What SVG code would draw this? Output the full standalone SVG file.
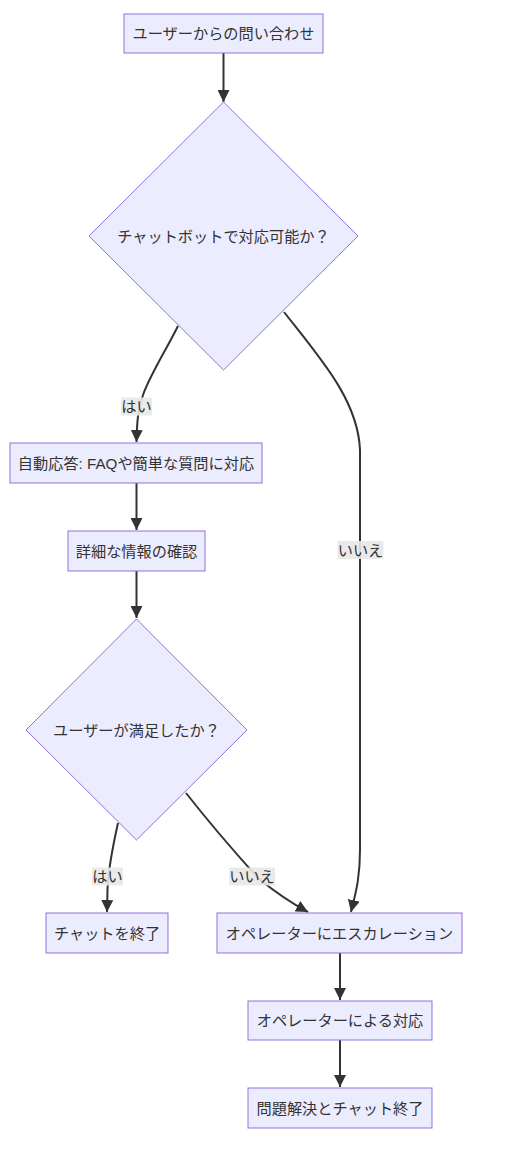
<svg xmlns="http://www.w3.org/2000/svg" width="526" height="1162" viewBox="0 0 526 1162">
<style>
.node rect,.node polygon{fill:#ECECFF;stroke:#9370DB;stroke-width:1}
.t{font-family:"Liberation Sans","Noto Sans CJK JP",sans-serif;font-size:15.2px;fill:#333333;text-anchor:middle;dominant-baseline:central}
.e{fill:none;stroke:#333333;stroke-width:2;marker-end:url(#arr)}
.lb{fill:#E8E8E8;opacity:0.9}
</style>
<defs>
<marker id="arr" viewBox="0 0 10 10" refX="10" refY="5" markerUnits="userSpaceOnUse" markerWidth="12" markerHeight="12" orient="auto">
<path d="M0,0 L10,5 L0,10 z" fill="#333333"/>
</marker>
</defs>
<rect width="526" height="1162" fill="#ffffff"/>
<g id="connectors">
<path class="e" d="M223.5,53 L223.5,102"/>
<path class="e" d="M178,326 C165,352 150,375 143,395 C138,410 137,420 136.5,442"/>
<path class="e" d="M284,312 C320,358 358,400 360,450 L360,850 C360,880 355,895 351,912"/>
<path class="e" d="M136.5,483 L136.5,530"/>
<path class="e" d="M136.5,571 L136.5,618"/>
<path class="e" d="M118,823 C112,850 108,870 107.5,890 L107,912"/>
<path class="e" d="M186,793 C215,830 240,858 258,878 C275,892 295,905 308,912"/>
<path class="e" d="M340,953 L340,1000"/>
<path class="e" d="M340,1040 L340,1087"/>
<g id="edge-labels">
<rect class="lb" x="121" y="397.5" width="31" height="18"/>
<text class="t" x="136.5" y="406.5">はい</text>
<rect class="lb" x="337.5" y="541" width="46" height="18"/>
<text class="t" x="360.5" y="550">いいえ</text>
<rect class="lb" x="92" y="867.5" width="31" height="18"/>
<text class="t" x="107.5" y="876.5">はい</text>
<rect class="lb" x="229" y="867.5" width="46" height="18"/>
<text class="t" x="252" y="876.5">いいえ</text>
</g>
</g>
<g id="n-start" class="node">
<rect x="124" y="14" width="199" height="39"/>
<text class="t" x="223.5" y="33.5">ユーザーからの問い合わせ</text>
</g>
<g id="n-bot" class="node">
<polygon points="223.5,102 358,236 223.5,370 89,236"/>
<text class="t" x="223.5" y="236">チャットボットで対応可能か？</text>
</g>
<g id="n-auto" class="node">
<rect x="10" y="443" width="252" height="40"/>
<text class="t" x="136" y="463">自動応答: FAQや簡単な質問に対応</text>
</g>
<g id="n-detail" class="node">
<rect x="68" y="531" width="137" height="40"/>
<text class="t" x="136.5" y="551">詳細な情報の確認</text>
</g>
<g id="n-sat" class="node">
<polygon points="136.5,619 247,730 136.5,840 26,730"/>
<text class="t" x="136.5" y="730">ユーザーが満足したか？</text>
</g>
<g id="n-end" class="node">
<rect x="46" y="913" width="122" height="40"/>
<text class="t" x="107" y="933">チャットを終了</text>
</g>
<g id="n-esc" class="node">
<rect x="217" y="913" width="245" height="40"/>
<text class="t" x="339.5" y="933">オペレーターにエスカレーション</text>
</g>
<g id="n-op" class="node">
<rect x="248" y="1001" width="184" height="39"/>
<text class="t" x="340" y="1020.5">オペレーターによる対応</text>
</g>
<g id="n-done" class="node">
<rect x="248" y="1088" width="184" height="40"/>
<text class="t" x="340" y="1108">問題解決とチャット終了</text>
</g>
</svg>
